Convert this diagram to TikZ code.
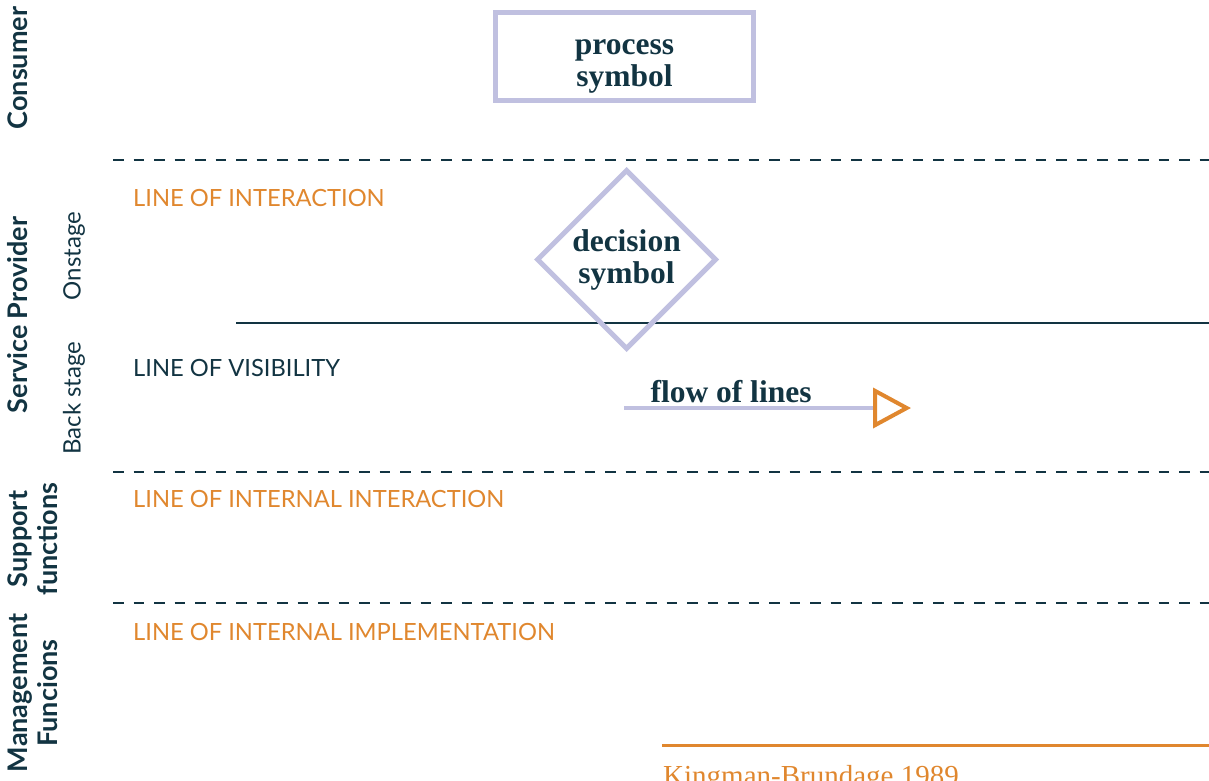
\documentclass[tikz,border=0pt]{standalone}
\usepackage{fontspec}
\setmainfont{Liberation Serif}
\setsansfont{Lato}
\usetikzlibrary{shapes.geometric,arrows.meta,positioning}
\definecolor{inkdark}{RGB}{18,52,66}
\definecolor{orangeink}{RGB}{224,135,46}
\definecolor{lavender}{RGB}{192,192,224}
\tikzset{%
  lanebreak/.style={draw=inkdark,line width=2.5pt,dash pattern=on 10.5pt off 10pt},%
  linelabel/.style={anchor=base west,inner sep=0pt,text=orangeink,font=\sffamily\fontsize{23.7}{27}\selectfont},%
  lanelabel/.style={rotate=90,inner sep=0pt,align=center,text=inkdark,font=\sffamily\bfseries\fontsize{27}{30}\selectfont},%
  stagelabel/.style={rotate=90,inner sep=0pt,text=inkdark,font=\sffamily\fontsize{24}{28}\selectfont},%
  symboltext/.style={align=center,text=inkdark,font=\bfseries\fontsize{31.5}{32}\selectfont},%
}
\begin{document}
\begin{tikzpicture}[x=1pt,y=-1pt]%
\useasboundingbox (0,0) rectangle (1209,780);%
% swimlane titles
\node[lanelabel] (consumer) at (18,68) {Consumer};%
\node[lanelabel] (provider) at (18,315) {Service Provider};%
\node[stagelabel] (onstage) at (74,256) {Onstage};%
\node[stagelabel] (backstage) at (74,398) {Back stage};%
\node[lanelabel] (support) at (33,539) {Support\\functions};%
\node[lanelabel] (management) at (33,693) {Management\\Funcions};%
% lines between lanes
\coordinate (interA) at (113,160); \coordinate (interB) at (1209,160);%
\coordinate (visA) at (236,323); \coordinate (visB) at (1209,323);%
\coordinate (intA) at (113,472); \coordinate (intB) at (1209,472);%
\coordinate (implA) at (113,603); \coordinate (implB) at (1209,603);%
\draw[lanebreak] (interA) -- (interB);%
\draw[inkdark,line width=2.5pt] (visA) -- (visB);%
\draw[lanebreak] (intA) -- (intB);%
\draw[lanebreak] (implA) -- (implB);%
\node[linelabel] (interlabel) at (133,206) {LINE OF INTERACTION};%
\node[linelabel,text=inkdark] (vislabel) at (133,376) {LINE OF VISIBILITY};%
\node[linelabel] (intlabel) at (133,507) {LINE OF INTERNAL INTERACTION};%
\node[linelabel] (impllabel) at (133,640) {LINE OF INTERNAL IMPLEMENTATION};%
% legend symbols
\node[symboltext,draw=lavender,line width=5pt,minimum width=258pt,minimum height=88pt,inner sep=0pt,text height=67pt] (process) at (624.5,56.5) {process\\symbol};%
\node[symboltext,diamond,aspect=1,draw=lavender,line width=5pt,minimum size=180pt,inner sep=0pt] (decision) at (626.5,259.5) {decision\\symbol};%
\coordinate (flowA) at (624,408); \coordinate (flowB) at (911,408);%
\draw[lavender,line width=4pt,-{Triangle[open,color=orangeink,line width=4pt,length=38pt,width=40pt]}] (flowA) -- (flowB);%
\node[symboltext,anchor=base] (flowlabel) at (731,402) {flow of lines};%
% source
\coordinate (srcA) at (662,745); \coordinate (srcB) at (1209,745);%
\draw[orangeink,line width=3pt] (srcA) -- (srcB);%
\node[anchor=base west,inner sep=0pt,text=orangeink,font=\fontsize{29}{32}\selectfont] (source) at (663,785) {Kingman-Brundage 1989};%
\end{tikzpicture}
\end{document}
